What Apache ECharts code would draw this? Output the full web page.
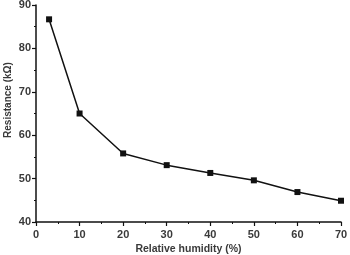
<!DOCTYPE html>
<html><head><meta charset="utf-8">
<script src="https://cdn.jsdelivr.net/npm/echarts@6/dist/echarts.min.js"></script>
<style>html,body{margin:0;padding:0;background:#fff}#c{width:350px;height:255px}</style>
</head><body><div id="c"></div>
<script>
const humidity = [3, 10, 20, 30, 40, 50, 60, 70];
const resistance = [86.7, 65.0, 55.8, 53.1, 51.3, 49.6, 46.9, 44.9];
const xTicks = [0, 10, 20, 30, 40, 50, 60, 70];
const yTicks = [40, 50, 60, 70, 80, 90];

const chart = echarts.init(document.getElementById('c'), null, {renderer: 'canvas'});
const font = {fontFamily: 'Liberation Sans, Arial, sans-serif', fontWeight: 'bold', fontSize: 11, color: '#3a3a3a'};
chart.setOption({
  animation: false,
  grid: {left: 36, right: 9, top: 5, bottom: 33, containLabel: false, outerBoundsMode: 'none'},
  xAxis: {
    type: 'value', min: xTicks[0], max: xTicks[xTicks.length - 1], interval: 10,
    name: 'Relative humidity (%)', nameLocation: 'middle', nameGap: 22, nameMoveOverlap: false,
    nameTextStyle: Object.assign({}, font, {fontSize: 10.5}),
    axisLine: {lineStyle: {color: '#111', width: 1.5}},
    axisTick: {show: true, inside: false, length: 4, lineStyle: {color: '#111', width: 1.2}},
    minorTick: {show: true, splitNumber: 2, length: 2, lineStyle: {color: '#111', width: 1}},
    axisLabel: Object.assign({}, font, {margin: 7}),
    splitLine: {show: false}
  },
  yAxis: {
    type: 'value', min: yTicks[0], max: yTicks[yTicks.length - 1], interval: 10,
    name: 'Resistance (kΩ)', nameLocation: 'middle', nameGap: 23, nameRotate: 90, nameMoveOverlap: false,
    nameTextStyle: Object.assign({}, font, {fontSize: 10, padding: [0, 0, 0, 27]}),
    axisLine: {show: true, lineStyle: {color: '#111', width: 1.5}},
    axisTick: {show: true, inside: false, length: 4, lineStyle: {color: '#111', width: 1.2}},
    minorTick: {show: true, splitNumber: 2, length: 2, lineStyle: {color: '#111', width: 1}},
    axisLabel: Object.assign({}, font, {margin: 5}),
    splitLine: {show: false}
  },
  series: [{
    type: 'line',
    data: humidity.map((h, i) => [h, resistance[i]]),
    symbol: 'rect', symbolSize: 6,
    lineStyle: {color: '#111', width: 1.5},
    itemStyle: {color: '#111'}
  }]
});
</script></body></html>
